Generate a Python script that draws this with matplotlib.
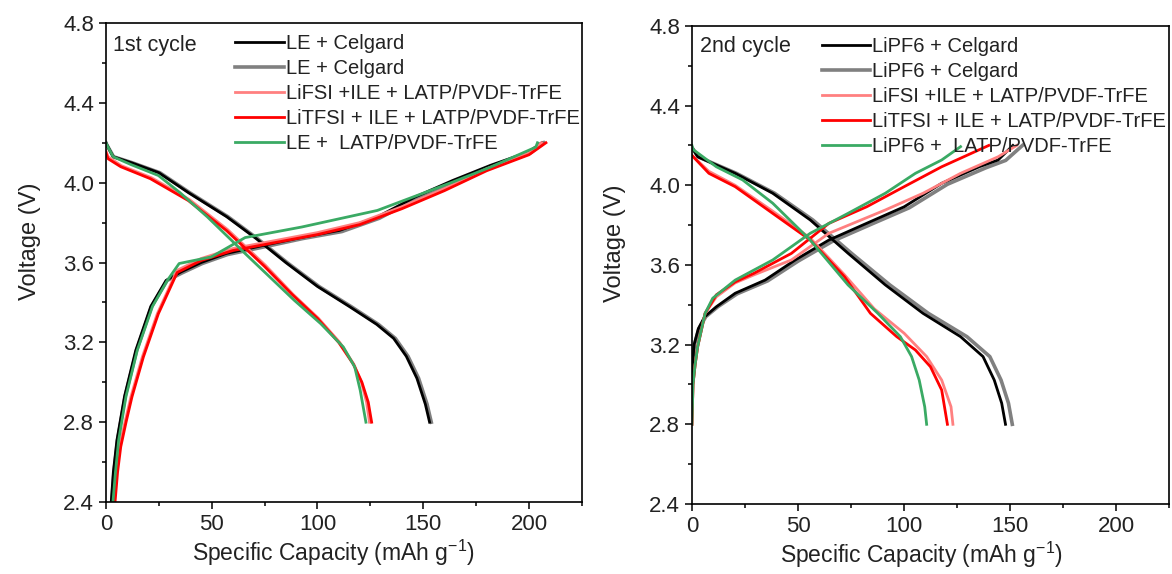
import matplotlib
matplotlib.use('Agg')
import matplotlib.pyplot as plt
from matplotlib.ticker import MultipleLocator

plt.rcParams['font.family'] = ['Liberation Sans', 'DejaVu Sans']
plt.rcParams['mathtext.default'] = 'regular'

colors = ['#000000', '#808080', '#ff8080', '#ff0000', '#3aaa64']

labels_1 = ['LE + Celgard', 'LE + Celgard', 'LiFSI +ILE + LATP/PVDF-TrFE',
            'LiTFSI + ILE + LATP/PVDF-TrFE', 'LE +  LATP/PVDF-TrFE']
labels_2 = ['LiPF6 + Celgard', 'LiPF6 + Celgard', 'LiFSI +ILE + LATP/PVDF-TrFE',
            'LiTFSI + ILE + LATP/PVDF-TrFE', 'LiPF6 +  LATP/PVDF-TrFE']

# ---- 1st cycle ----
# charge
c1_black_cap = [2.5, 3.5, 5.2, 8.8, 14.1, 21.2, 28.4, 35.5, 45, 56.7, 74.5, 92, 110.4, 128.3, 146.1, 163.9, 181.8, 199.6, 206]
c1_black_v = [2.4, 2.55, 2.71, 2.93, 3.16, 3.38, 3.51, 3.553, 3.60, 3.645, 3.686, 3.725, 3.761, 3.828, 3.928, 4.011, 4.087, 4.153, 4.2]
c1_gray_cap = [2.8, 3.8, 5.5, 9.1, 14.5, 21.6, 28.9, 36, 45.5, 57.5, 75.5, 93, 111.5, 129.3, 147, 164.8, 182.6, 200.5, 207]
c1_gray_v = [2.4, 2.55, 2.71, 2.93, 3.16, 3.38, 3.51, 3.548, 3.595, 3.64, 3.68, 3.72, 3.755, 3.822, 3.922, 4.005, 4.08, 4.148, 4.2]
c1_pink_cap = [4.0, 5.0, 6.4, 9.0, 11.8, 17.2, 24.3, 31.5, 33.5, 45, 60, 80, 100, 120, 140, 160, 180, 200, 206]
c1_pink_v = [2.4, 2.55, 2.677, 2.80, 2.927, 3.127, 3.344, 3.511, 3.56, 3.62, 3.67, 3.71, 3.75, 3.80, 3.88, 3.97, 4.07, 4.15, 4.2]
c1_red_cap = [4.3, 5.5, 7.0, 9.5, 12.3, 17.7, 24.8, 32, 33.7, 45, 60, 80, 100, 120, 140, 160, 180, 200, 208]
c1_red_v = [2.4, 2.55, 2.677, 2.80, 2.927, 3.127, 3.344, 3.511, 3.55, 3.61, 3.66, 3.70, 3.74, 3.79, 3.87, 3.96, 4.06, 4.14, 4.2]
c1_green_cap = [3.3, 4.5, 6.0, 9.5, 14.8, 22, 29, 34.6, 49.8, 65.8, 92.6, 128.3, 163.9, 181.8, 203.2, 204]
c1_green_v = [2.4, 2.55, 2.71, 2.93, 3.16, 3.38, 3.51, 3.595, 3.628, 3.725, 3.778, 3.861, 4.003, 4.078, 4.178, 4.2]
# discharge
d1_black_cap = [0, 0.4, 3.4, 12, 25, 39, 57, 71, 85, 100, 115, 128, 136, 142, 147, 151, 153]
d1_black_v = [4.2, 4.19, 4.13, 4.1, 4.05, 3.95, 3.83, 3.72, 3.6, 3.48, 3.38, 3.29, 3.22, 3.13, 3.02, 2.89, 2.8]
d1_gray_cap = [0, 0.4, 3.6, 12.4, 25.5, 39.6, 57.6, 71.6, 85.6, 100.7, 115.8, 128.8, 136.8, 142.8, 147.8, 151.8, 153.8]
d1_gray_v = [4.2, 4.19, 4.13, 4.1, 4.05, 3.95, 3.83, 3.72, 3.6, 3.48, 3.38, 3.29, 3.22, 3.13, 3.02, 2.89, 2.8]
d1_pink_cap = [0, 1, 7.3, 21.5, 39.5, 57.5, 75.5, 88.5, 100.5, 110.5, 117.2, 120.8, 123.2, 124.6]
d1_pink_v = [4.16, 4.13, 4.085, 4.025, 3.915, 3.765, 3.585, 3.44, 3.32, 3.2, 3.09, 3.0, 2.9, 2.8]
d1_red_cap = [0, 1, 7, 21, 39, 57, 75, 88, 100, 110, 117, 121, 124, 125.6]
d1_red_v = [4.15, 4.12, 4.08, 4.02, 3.91, 3.76, 3.58, 3.44, 3.32, 3.2, 3.09, 3.0, 2.9, 2.8]
d1_green_cap = [0, 0.4, 3.4, 12, 24.8, 35, 48, 65.8, 89, 101.5, 112.2, 117.6, 120.2, 122.9]
d1_green_v = [4.2, 4.19, 4.13, 4.09, 4.036, 3.95, 3.828, 3.645, 3.411, 3.294, 3.177, 3.077, 2.96, 2.8]

# ---- 2nd cycle ----
c2_black_cap = [0, 0.3, 1, 3, 6, 11.5, 20.4, 34.5, 48.7, 64.6, 82.4, 100.1, 117.8, 135.5, 144.4, 151.4]
c2_black_v = [3.0, 3.1, 3.2, 3.28, 3.34, 3.39, 3.458, 3.524, 3.625, 3.725, 3.809, 3.892, 4.01, 4.093, 4.127, 4.2]
c2_gray_cap = [0, 0.3, 1.2, 3.3, 6.5, 12.2, 21.3, 35.7, 50.2, 66.5, 84.5, 102.5, 120.5, 138.7, 148, 155.9]
c2_gray_v = [3.0, 3.1, 3.2, 3.28, 3.34, 3.39, 3.455, 3.52, 3.62, 3.72, 3.804, 3.887, 4.005, 4.088, 4.125, 4.2]
c2_pink_cap = [0, 0.5, 1.5, 2.7, 6.2, 11.5, 20.4, 29.2, 46.9, 64.6, 91.2, 109, 126.7, 144.4, 153.2]
c2_pink_v = [2.8, 3.0, 3.1, 3.19, 3.357, 3.44, 3.51, 3.55, 3.625, 3.759, 3.876, 3.96, 4.06, 4.143, 4.2]
c2_red_cap = [0, 0.5, 1.5, 2.7, 6.2, 11.5, 20.4, 29.2, 46.9, 64.6, 82.4, 100.1, 117.8, 140]
c2_red_v = [2.8, 3.0, 3.1, 3.19, 3.357, 3.45, 3.515, 3.558, 3.658, 3.809, 3.892, 3.993, 4.093, 4.2]
c2_green_cap = [0, 0.5, 1.5, 2.7, 6.2, 9.8, 20.4, 38.1, 55.8, 73.6, 91.2, 105.4, 117.8, 126.7]
c2_green_v = [2.8, 3.0, 3.1, 3.19, 3.357, 3.433, 3.524, 3.625, 3.759, 3.859, 3.96, 4.06, 4.127, 4.194]
d2_black_cap = [0, 2.7, 20.4, 38.1, 55.8, 73.6, 91.2, 109, 126.7, 137.3, 142.6, 146.1, 147.9]
d2_black_v = [4.19, 4.143, 4.06, 3.96, 3.826, 3.659, 3.50, 3.357, 3.24, 3.14, 3.022, 2.906, 2.8]
d2_gray_cap = [0, 2.9, 21, 39, 57, 75.2, 93.3, 111.5, 129.7, 140.5, 145.8, 149.3, 151.1]
d2_gray_v = [4.19, 4.143, 4.06, 3.96, 3.826, 3.659, 3.50, 3.357, 3.24, 3.14, 3.022, 2.906, 2.8]
d2_pink_cap = [0, 8, 20.4, 38.1, 55.8, 72, 86, 100.1, 110.7, 117.8, 122.2, 123.1]
d2_pink_v = [4.15, 4.07, 4.0, 3.87, 3.735, 3.55, 3.38, 3.257, 3.14, 3.022, 2.888, 2.8]
d2_red_cap = [0, 8, 20.4, 38.1, 55.8, 72, 84.2, 96.6, 105.4, 112.5, 117.8, 120.5]
d2_red_v = [4.15, 4.06, 3.993, 3.859, 3.725, 3.54, 3.357, 3.24, 3.173, 3.089, 2.972, 2.8]
d2_green_cap = [0, 0.5, 11.5, 23.9, 38.1, 55.8, 73.6, 87.7, 98.3, 103.6, 107.2, 109.8, 110.7]
d2_green_v = [4.2, 4.18, 4.093, 4.027, 3.91, 3.725, 3.5, 3.357, 3.24, 3.14, 3.022, 2.888, 2.8]

panels = [
    ('1st cycle', labels_1,
     [(c1_black_cap, c1_black_v, d1_black_cap, d1_black_v),
      (c1_gray_cap, c1_gray_v, d1_gray_cap, d1_gray_v),
      (c1_pink_cap, c1_pink_v, d1_pink_cap, d1_pink_v),
      (c1_red_cap, c1_red_v, d1_red_cap, d1_red_v),
      (c1_green_cap, c1_green_v, d1_green_cap, d1_green_v)]),
    ('2nd cycle', labels_2,
     [(c2_black_cap, c2_black_v, d2_black_cap, d2_black_v),
      (c2_gray_cap, c2_gray_v, d2_gray_cap, d2_gray_v),
      (c2_pink_cap, c2_pink_v, d2_pink_cap, d2_pink_v),
      (c2_red_cap, c2_red_v, d2_red_cap, d2_red_v),
      (c2_green_cap, c2_green_v, d2_green_cap, d2_green_v)]),
]

fig = plt.figure(figsize=(11.72, 5.74), dpi=100)
rects = [[0.0904, 0.1254, 0.4061, 0.8345], [0.5904, 0.122, 0.407, 0.8328]]
title_pos = [(0.015, 0.954), (0.017, 0.958)]
xlab_pos = [(0.477, -0.075), (0.48, -0.075)]
ylab_pos = [(-0.137, 0.545), (-0.138, 0.545)]
textc = '#222222'
# gray first so black lies on top, like the original
order = [1, 0, 2, 3, 4]

for k, (rect, (title, labels, series)) in enumerate(zip(rects, panels)):
    ax = fig.add_axes(rect)
    handles = {}
    for i in order:
        cc, cv, dc, dv = series[i]
        lw = 2.6 if i == 1 else 2.0
        h, = ax.plot(cc, cv, color=colors[i], lw=lw, label=labels[i])
        ax.plot(dc, dv, color=colors[i], lw=lw)
        handles[i] = h
    ax.set_xlim(0, 225)
    ax.set_ylim(2.4, 4.8)
    ax.xaxis.set_major_locator(MultipleLocator(50))
    ax.xaxis.set_minor_locator(MultipleLocator(25))
    ax.yaxis.set_major_locator(MultipleLocator(0.4))
    ax.yaxis.set_minor_locator(MultipleLocator(0.2))
    ax.tick_params(which='both', direction='out', top=False, right=False,
                   labelsize=16, labelcolor=textc, width=1.1)
    ax.tick_params(which='major', length=5)
    ax.tick_params(which='minor', length=3)
    ax.yaxis.set_major_formatter(plt.FormatStrFormatter('%.1f'))
    for s in ax.spines.values():
        s.set_linewidth(1.2)
    ax.set_xlabel('Specific Capacity (mAh g$^{-1}$)', fontsize=16.5, color=textc)
    ax.set_ylabel('Voltage (V)', fontsize=17, color=textc)
    ax.xaxis.set_label_coords(*xlab_pos[k])
    ax.yaxis.set_label_coords(*ylab_pos[k])
    ax.text(title_pos[k][0], title_pos[k][1], title, transform=ax.transAxes,
            fontsize=15.5, color=textc, va='center', ha='left')
    leg = ax.legend([handles[i] for i in range(5)], labels,
                    loc='upper left', bbox_to_anchor=(0.272, 0.977),
                    frameon=False, fontsize=14.5, handlelength=2.4,
                    handletextpad=0.1, labelspacing=0.3, borderpad=0,
                    borderaxespad=0)
    for t in leg.get_texts():
        t.set_color(textc)

fig.savefig('out.png', dpi=100)
